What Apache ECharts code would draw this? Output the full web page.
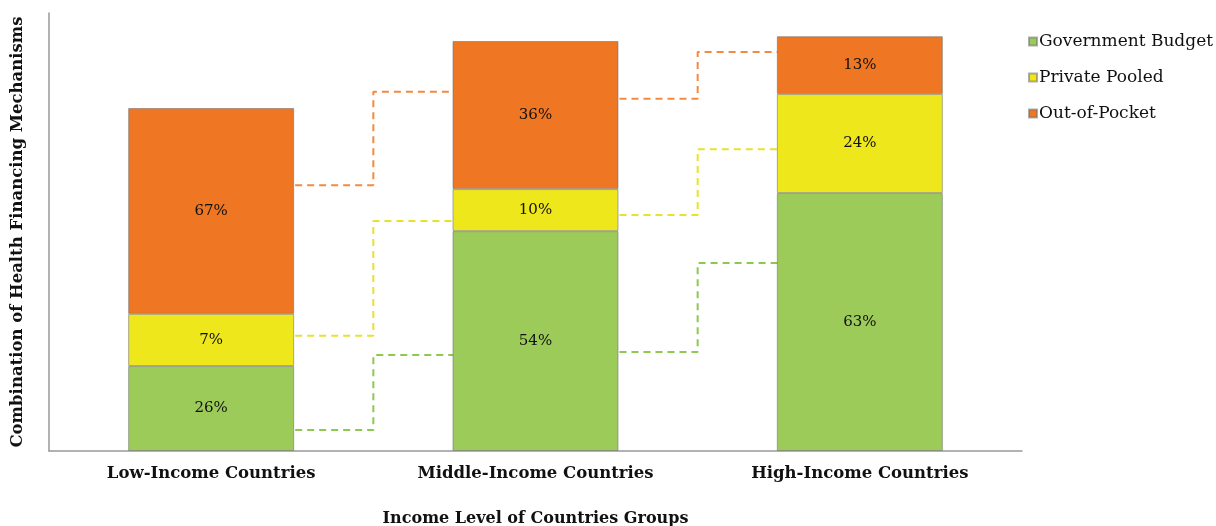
<!DOCTYPE html>
<html>
<head>
<meta charset="utf-8">
<script src="https://cdn.jsdelivr.net/npm/echarts@6/dist/echarts.min.js"></script>
<style>
html,body{margin:0;padding:0;background:#fff;}
#chart{width:1216px;height:526px;}
</style>
</head>
<body>
<div id="chart"></div>
<script>
// Categories and series (bar segment heights, arbitrary 0-100 scale)
var categories = ['Low-Income Countries', 'Middle-Income Countries', 'High-Income Countries'];
var seriesNames = ['Government Budget', 'Private Pooled', 'Out-of-Pocket'];
var governmentBudget = [19.4, 50.2, 58.9];
var privatePooled = [11.9, 9.6, 22.6];
var outOfPocket = [47.0, 33.8, 13.2];
// Printed percentage labels
var governmentLabels = ['26%', '54%', '63%'];
var privateLabels = ['7%', '10%', '24%'];
var outOfPocketLabels = ['67%', '36%', '13%'];
// Dashed step connectors between neighbouring bars (left value, right value)
var govConnLowMid = [4.8, 21.9];
var govConnMidHigh = [22.6, 42.9];
var privConnLowMid = [26.3, 52.5];
var privConnMidHigh = [53.9, 68.9];
var oopConnLowMid = [60.7, 82.0];
var oopConnMidHigh = [80.4, 91.1];

var colors = ['#9ccb59', '#eee71b', '#ef7622'];
var lineColors = ['#8dc84f', '#e9e12b', '#f58a3e'];
var FONT = 'DejaVu Serif';

function barSeries(name, data, labels, color) {
  return {
    name: name, type: 'bar', stack: 'total', barWidth: 166, z: 5,
    data: data,
    itemStyle: { color: color, borderColor: 'rgba(110,110,110,0.55)', borderWidth: 1 },
    label: {
      show: true, position: 'inside', color: '#111', fontFamily: FONT, fontSize: 15,
      formatter: function (p) { return labels[p.dataIndex]; }
    }
  };
}
// connector from the centre of category startIdx to the centre of the next one;
// the parts inside the bars are covered by the bars themselves
function connector(vals, startIdx, color) {
  return {
    type: 'line', step: 'middle', xAxisIndex: 1, z: 2, symbol: 'none', silent: true,
    data: [[startIdx + 0.5, vals[0]], [startIdx + 1.5, vals[1]]],
    lineStyle: { color: color, width: 2, type: [7, 5] }
  };
}

var chart = echarts.init(document.getElementById('chart'), null, { renderer: 'canvas' });
chart.setOption({
  animation: false,
  backgroundColor: '#fff',
  grid: { left: 49, right: 194, top: 13, bottom: 75, containLabel: false, outerBoundsMode: 'none' },
  legend: {
    data: seriesNames, orient: 'vertical', left: 1023, top: 28,
    icon: 'rect', itemWidth: 8, itemHeight: 8, itemGap: 19,
    textStyle: { fontFamily: FONT, fontSize: 17, color: '#111', padding: [0, 0, 0, -3] }
  },
  xAxis: [{
    type: 'category', data: categories,
    axisLine: { lineStyle: { color: '#999', width: 1.5 } },
    axisTick: { show: false },
    axisLabel: { color: '#111', fontFamily: FONT, fontWeight: 'bold', fontSize: 16.5, margin: 14 },
    name: 'Income Level of Countries Groups', nameLocation: 'middle', nameGap: 60,
    nameTextStyle: { color: '#111', fontFamily: FONT, fontWeight: 'bold', fontSize: 16 }
  }, {
    type: 'value', min: 0, max: 3, show: false
  }],
  yAxis: {
    type: 'value', min: 0, max: 100,
    axisLine: { show: true, lineStyle: { color: '#999', width: 1.5 } },
    axisTick: { show: false }, axisLabel: { show: false }, splitLine: { show: false },
    name: 'Combination of Health Financing Mechanisms', nameLocation: 'middle', nameGap: 23,
    nameTextStyle: { color: '#111', fontFamily: FONT, fontWeight: 'bold', fontSize: 16.5 }
  },
  series: [
    barSeries(seriesNames[0], governmentBudget, governmentLabels, colors[0]),
    barSeries(seriesNames[1], privatePooled, privateLabels, colors[1]),
    barSeries(seriesNames[2], outOfPocket, outOfPocketLabels, colors[2]),
    connector(govConnLowMid, 0, lineColors[0]),
    connector(govConnMidHigh, 1, lineColors[0]),
    connector(privConnLowMid, 0, lineColors[1]),
    connector(privConnMidHigh, 1, lineColors[1]),
    connector(oopConnLowMid, 0, lineColors[2]),
    connector(oopConnMidHigh, 1, lineColors[2])
  ]
});
</script>
</body>
</html>
